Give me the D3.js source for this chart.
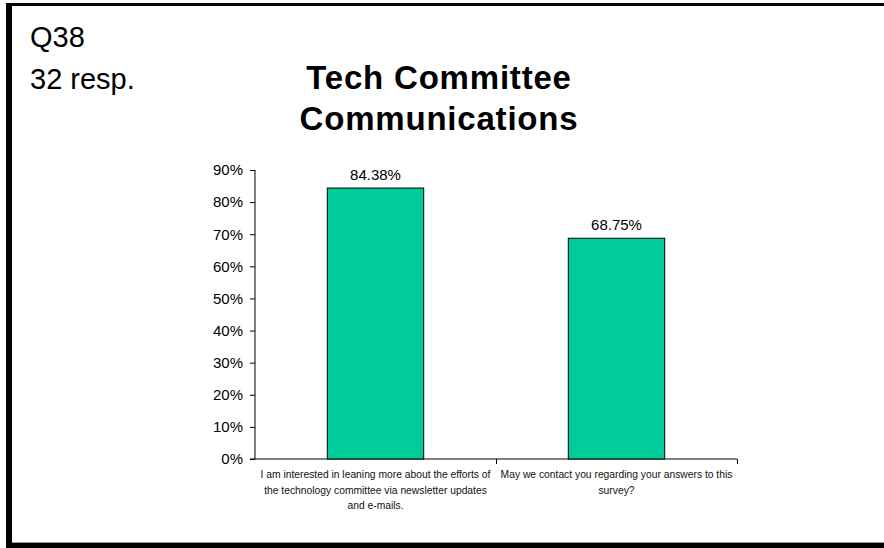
<!DOCTYPE html>
<html>
<head>
<meta charset="utf-8">
<script src="https://cdn.jsdelivr.net/npm/d3@7"></script>
<style>
  html, body { margin: 0; padding: 0; background: #fff; }
  svg { display: block; font-family: "Liberation Sans", Arial, sans-serif; }
</style>
</head>
<body>
<svg id="chart" width="884" height="548"></svg>
<script>
// Survey question and response count
const questionId = "Q38";
const responseNote = "32 resp.";
const titleLines = ["Tech Committee", "Communications"];

// Categories (each label pre-wrapped into lines) and their shares
const categories = ["newsletter", "contact"];
const categoryLabels = [
  ["I am interested in leaning more about the efforts of",
   "the technology committee via newsletter updates",
   "and e-mails."],
  ["May we contact you regarding your answers to this",
   "survey?"]
];
const values = [0.8438, 0.6875];
const valueLabels = ["84.38%", "68.75%"];
const yTicks = [0, 0.1, 0.2, 0.3, 0.4, 0.5, 0.6, 0.7, 0.8, 0.9];

const svg = d3.select("#chart");

// Frame: thick rule on the left, top and bottom
svg.append("rect").attr("x", 6).attr("y", 3).attr("width", 6).attr("height", 545).attr("fill", "#000");
svg.append("rect").attr("x", 12).attr("y", 3).attr("width", 872).attr("height", 3).attr("fill", "#000");
svg.append("rect").attr("x", 12).attr("y", 542).attr("width", 872).attr("height", 1).attr("fill", "#999");
svg.append("rect").attr("x", 12).attr("y", 543).attr("width", 872).attr("height", 5).attr("fill", "#000");

// Corner notes
svg.append("text").attr("x", 30).attr("y", 47)
  .attr("font-size", 29).attr("fill", "#000").text(questionId);
svg.append("text").attr("x", 30).attr("y", 89)
  .attr("font-size", 29).attr("fill", "#000").text(responseNote);

// Title
svg.append("text")
  .attr("x", 439).attr("y", 89)
  .attr("text-anchor", "middle")
  .attr("font-size", 33).attr("font-weight", "bold").attr("fill", "#000")
  .attr("letter-spacing", 0.8)
  .selectAll("tspan").data(titleLines).join("tspan")
  .attr("x", 439).attr("dy", (d, i) => i === 0 ? 0 : 41)
  .text(d => d);

// Scales
const x = d3.scaleBand().domain(categories).range([255, 737]).padding(0);
const y = d3.scaleLinear().domain([0, 0.9]).range([459, 170]);
const barFrac = 0.4;

// Y axis
const yAxis = svg.append("g")
  .attr("transform", `translate(${x.range()[0]},0)`)
  .call(d3.axisLeft(y).tickValues(yTicks).tickFormat(d3.format(".0%")).tickSize(5).tickPadding(7));
yAxis.select(".domain").attr("stroke", "#000").attr("d", `M0,${y(0.9)}V${y(0)}`);
yAxis.selectAll(".tick line").attr("stroke", "#000");
yAxis.selectAll(".tick text")
  .attr("font-size", 15).attr("fill", "#000")
  .attr("font-family", "'Liberation Sans', Arial, sans-serif");

// X axis: tick marks sit on the category boundaries
const boundaries = categories.map(c => x(c) + x.bandwidth());
const xAxis = svg.append("g")
  .attr("transform", `translate(0,${y(0)})`)
  .call(d3.axisBottom(d3.scaleLinear().domain(x.range()).range(x.range()))
    .tickValues(boundaries).tickSize(5).tickFormat(""));
xAxis.select(".domain").attr("stroke", "#000").attr("d", `M${x.range()[0] - 5},0H${x.range()[1]}`);
xAxis.selectAll(".tick line").attr("stroke", "#000");

// Bars
svg.append("g").selectAll("rect").data(values).join("rect")
  .attr("x", (d, i) => x(categories[i]) + x.bandwidth() * (1 - barFrac) / 2)
  .attr("width", x.bandwidth() * barFrac)
  .attr("y", d => y(d))
  .attr("height", d => y(0) - y(d))
  .attr("fill", "#00CC99")
  .attr("stroke", "#000").attr("stroke-width", 1);

// Value labels
svg.append("g").selectAll("text").data(values).join("text")
  .attr("x", (d, i) => x(categories[i]) + x.bandwidth() / 2)
  .attr("y", d => y(d) - 8)
  .attr("text-anchor", "middle")
  .attr("font-size", 15).attr("fill", "#000")
  .text((d, i) => valueLabels[i]);

// Category labels
const catG = svg.append("g").selectAll("text").data(categoryLabels).join("text")
  .attr("text-anchor", "middle")
  .attr("font-size", 10.3).attr("fill", "#111");
catG.selectAll("tspan").data((d, i) => d.map(line => ({ line, i }))).join("tspan")
  .attr("x", d => x(categories[d.i]) + x.bandwidth() / 2)
  .attr("y", (d, j) => 478 + j * 15.5)
  .text(d => d.line);
</script>
</body>
</html>
